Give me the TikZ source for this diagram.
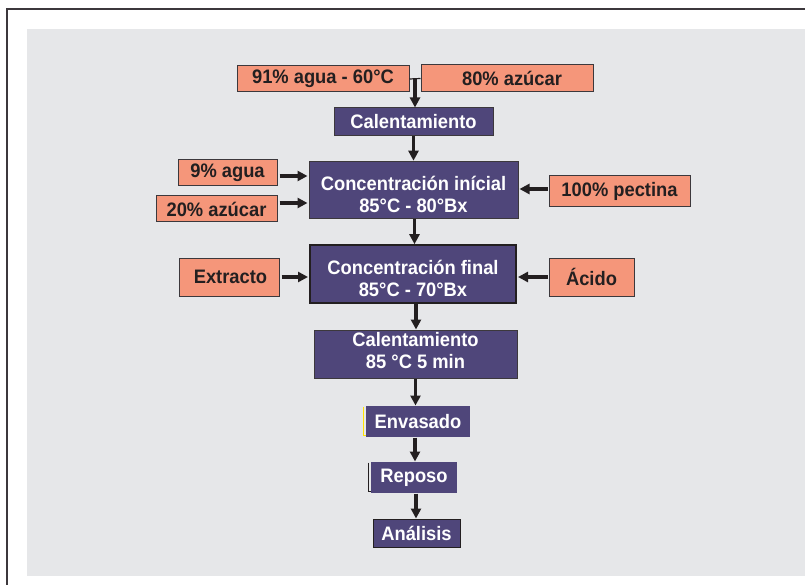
\documentclass[tikz,border=0pt]{standalone}
\usepackage{fontspec}
\setmainfont[FakeStretch=0.94]{Liberation Sans}
\usetikzlibrary{arrows.meta,calc}
\definecolor{bggray}{RGB}{230,231,233}
\definecolor{salmon}{RGB}{245,150,122}
\definecolor{purp}{RGB}{79,70,122}
\definecolor{ink}{RGB}{35,31,32}
\definecolor{edge}{RGB}{60,56,60}
\tikzset{
  inbox/.style={draw=edge, line width=1pt, fill=salmon, text=ink, inner sep=0pt,
    font=\fontsize{19.5}{22}\selectfont\bfseries},
  stepbox/.style={draw=edge, line width=1pt, fill=purp, text=white, inner sep=0pt,
    align=center, font=\fontsize{19.5}{22}\selectfont\bfseries},
  arr/.style={draw=ink, line width=3.4pt, -{Triangle[length=10pt,width=10pt]}},
  thinline/.style={draw=ink, line width=1.2pt}
}
\begin{document}
\begin{tikzpicture}[x=1pt,y=-1pt]
\useasboundingbox (0,0) rectangle (805,585);
\fill[white] (0,0) rectangle (805,585);
\fill[bggray] (27,29) rectangle (805,576);
\draw[edge, line width=1.4pt] (7,585) -- (7,9) -- (805,9);

% input boxes
\node[inbox, minimum width=172pt, minimum height=26pt] (a91) at (323,79) {91\% agua - 60°C};
\node[inbox, minimum width=172pt, minimum height=27pt] (a80) at (507,78.5) {\hspace{10pt}80\% azúcar};
\node[inbox, minimum width=99pt, minimum height=26pt] (agua9) at (227.5,173) {9\% agua\hspace{8pt}};
\node[inbox, minimum width=121pt, minimum height=26pt] (az20) at (216.5,209) {20\% azúcar};
\node[inbox, minimum width=141pt, minimum height=31pt] (pect) at (619.5,191.5) {100\% pectina};
\node[inbox, minimum width=100pt, minimum height=38pt] (ext) at (229,277) {\hspace{3pt}Extracto};
\node[inbox, minimum width=85pt, minimum height=38pt] (acid) at (591.5,277) {Ácido};

% process boxes
\node[stepbox, minimum width=159pt, minimum height=28pt] (cal1) at (413.5,122) {Calentamiento};
\node[stepbox, minimum width=209pt, minimum height=52pt] (ci) at (413.5,190)
  {\begin{tabular}{@{}c@{}}\rule{0pt}{29pt}Concentración inícial\\85°C - 80°Bx\end{tabular}};
\node[stepbox, draw=ink, line width=2pt, minimum width=206pt, minimum height=52pt] (cf) at (413,274)
  {\begin{tabular}{@{}c@{}}\rule{0pt}{29pt}Concentración final\\85°C - 70°Bx\end{tabular}};
\node[stepbox, minimum width=203pt, minimum height=48pt] (cal2) at (415.5,354)
  {\begin{tabular}{@{}c@{}}Calentamiento\\85 °C 5 min\rule[-8pt]{0pt}{0pt}\end{tabular}};
\node[stepbox, draw=none, minimum width=104pt, minimum height=31pt] (env) at (418,421.5) {Envasado};
\node[stepbox, draw=none, minimum width=86pt, minimum height=31pt] (rep) at (414,477.5) {Reposo};
\node[stepbox, draw=ink, minimum width=87pt, minimum height=28pt] (anal) at (416.5,533) {Análisis};

% small edge marks at left of Envasado and Reposo
\draw[yellow!85!orange, line width=1.5pt] ([xshift=-2pt,yshift=-1pt]env.north west) -- ([xshift=-2pt,yshift=2pt]env.south west) -- ([yshift=2pt]env.south west);
\draw[ink, line width=1.5pt] ([xshift=-2pt,yshift=-1pt]rep.north west) -- ([xshift=-2pt,yshift=2pt]rep.south west) -- ([yshift=2pt]rep.south west);

% top junction
\draw[thinline] (a91.east) -- (a80.west);
\coordinate (j) at ($(a91.east)!0.5!(a80.west)$);
\draw[arr] (j) -- (j |- cal1.north);

% vertical flow
\draw[arr] (cal1.south) -- (cal1.south |- ci.north);
\draw[arr] ([xshift=1pt]ci.south) -- ([xshift=1pt]ci.south |- cf.north);
\draw[arr] ([xshift=3pt]cf.south) -- ([xshift=3pt]cf.south |- cal2.north);
\draw[arr] (cal2.south) -- (cal2.south |- env.north);
\draw[arr] ([xshift=1pt]rep.north |- env.south) -- ([xshift=1pt]rep.north);
\draw[arr] ([xshift=2pt]rep.south) -- ([xshift=2pt]rep.south |- anal.north);

% side inputs
\draw[arr, shorten <=2pt, shorten >=1pt] ([yshift=-3pt]agua9.east) -- ([yshift=-3pt]agua9.east -| ci.west);
\draw[arr, shorten <=2pt, shorten >=1pt] ([yshift=6pt]az20.east) -- ([yshift=6pt]az20.east -| ci.west);
\draw[arr, shorten <=1pt, shorten >=1pt] ([yshift=2.5pt]pect.west) -- ([yshift=2.5pt]pect.west -| ci.east);
\draw[arr, shorten <=2pt, shorten >=1pt] (ext.east) -- (ext.east -| cf.west);
\draw[arr, shorten <=1pt, shorten >=1pt] (acid.west) -- (acid.west -| cf.east);
\end{tikzpicture}
\end{document}
